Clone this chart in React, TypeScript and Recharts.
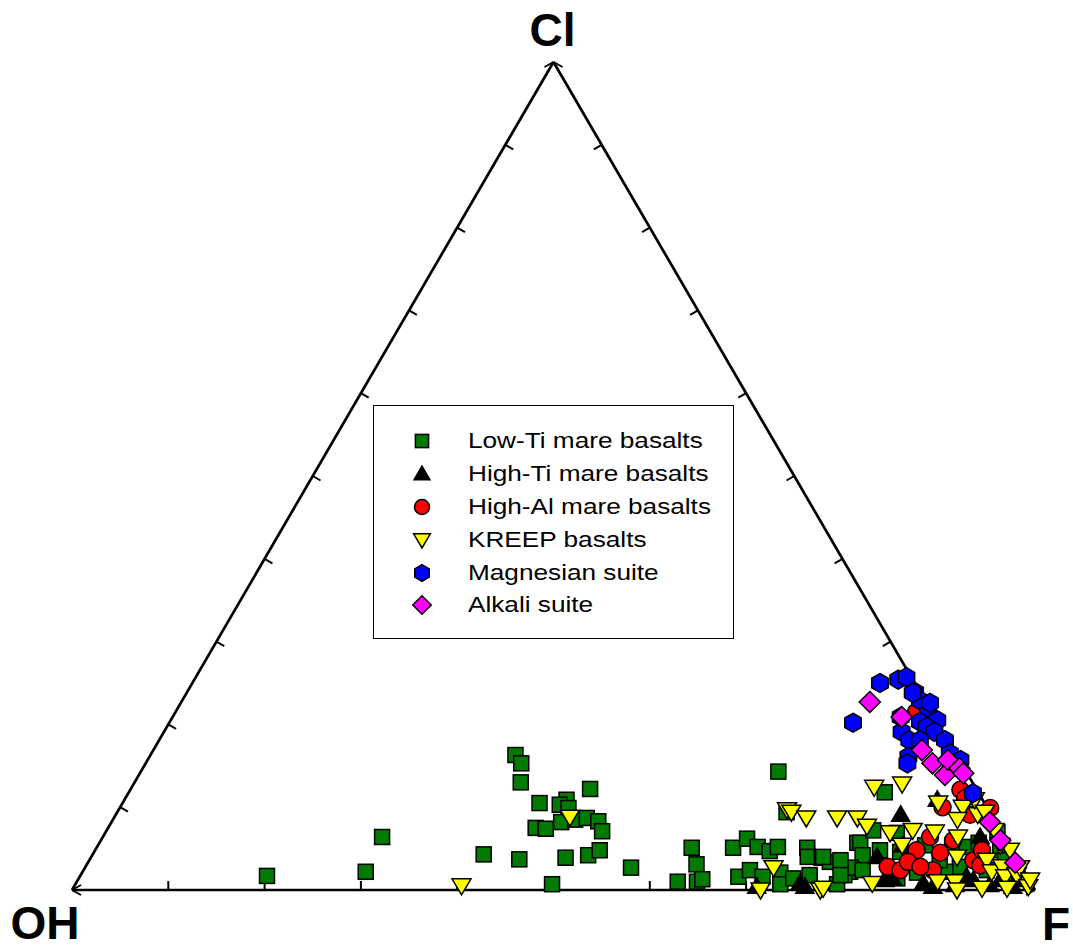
import React from "react";
import { Legend, ReferenceDot, ReferenceLine, Scatter, ScatterChart, XAxis, YAxis } from "recharts";

// compositions as [F %, Cl %]; OH is the rest
const lowTi = [
  [19.4, 1.7], [29.4, 2.2], [29.0, 6.4], [40.6, 4.3], [37.9, 16.3], [39.0, 15.3], [40.1, 13.0],
  [43.3, 10.5], [44.4, 7.5], [45.5, 7.4], [44.6, 3.7], [49.3, 3.9], [49.5, 0.7], [45.9, 10.9],
  [45.5, 10.3], [46.6, 9.9], [46.7, 8.2], [48.0, 8.5], [49.1, 8.7], [50.5, 8.3], [51.5, 7.1],
  [47.7, 12.2], [51.5, 4.2], [52.4, 4.8], [56.7, 2.7], [66.2, 14.3], [61.8, 5.1], [63.3, 3.1],
  [62.4, 1.0], [64.4, 1.0], [64.8, 1.3], [66.1, 5.1], [67.0, 6.2], [68.6, 5.2], [70.1, 4.7],
  [70.7, 5.2], [68.4, 1.6], [69.2, 2.4], [70.9, 1.6], [72.5, 2.1], [73.2, 0.7], [74.2, 1.4],
  [73.8, 5.1], [74.4, 4.0], [75.9, 3.9], [75.7, 1.8], [78.1, 3.3], [79.7, 2.2], [79.3, 1.8],
  [79.1, 0.7], [78.7, 5.7], [69.5, 9.4], [78.5, 11.8], [79.0, 5.7], [80.0, 4.2], [79.5, 2.7],
  [77.0, 3.4], [78.0, 3.6], [78.9, 1.8], [76.0, 4.0], [80.9, 2.4], [82.2, 6.9], [83.7, 4.6],
  [81.5, 4.8], [85.2, 3.6], [86.7, 2.1], [88.7, 5.4], [90.3, 5.2], [91.3, 5.7], [90.8, 2.8],
  [94.0, 4.8], [95.1, 3.6], [93.8, 2.4], [85.0, 1.4], [89.6, 2.2], [79.6, 7.2], [85.9, 5.4],
  [88.3, 3.6], [96.5, 1.8], [96.7, 2.4], [92.6, 7.0],
];
const highTi = [
  [70.9, 0.4], [75.2, 0.8], [75.9, 0.4], [81.5, 9.1], [91.1, 6.4], [81.6, 4.0], [84.5, 1.4],
  [88.0, 0.8], [92.1, 1.6], [93.0, 1.2], [97.5, 1.2], [89.2, 0.4], [91.4, 0.6], [95.0, 0.6],
  [95.8, 1.2], [97.5, 0.4], [84.4, 10.9], [83.6, 5.4], [83.8, 1.2],
];
const highAl = [
  [76.9, 21.5], [86.2, 12.1], [87.2, 11.1], [85.4, 10.0], [88.5, 6.0], [87.9, 4.5], [85.3, 4.8],
  [85.9, 6.4], [83.3, 2.8], [84.8, 2.4], [85.1, 3.4], [88.2, 2.4], [91.8, 3.6], [92.8, 3.0],
  [92.1, 4.8], [86.7, 2.8], [88.7, 9.1], [90.4, 9.9],
];
const kreep = [
  [47.3, 8.8], [40.2, 0.5], [69.4, 9.7], [70.0, 9.4], [71.9, 8.7], [75.1, 8.7], [77.2, 8.7],
  [71.5, 2.7], [71.5, 0.0], [77.7, 0.0], [77.1, 12.4], [79.8, 12.8], [78.7, 7.7], [84.7, 10.5],
  [87.5, 10.0], [89.5, 9.1], [87.7, 8.5], [81.5, 6.9], [83.7, 7.2], [86.1, 7.0], [88.8, 6.4],
  [83.5, 5.4], [89.9, 4.0], [93.2, 3.6], [94.4, 2.2], [95.2, 2.8], [96.1, 1.6], [97.2, 1.8],
  [99.1, 0.4], [89.4, 1.0], [91.2, 1.0], [91.9, 0.0], [94.4, 0.2], [97.0, 0.2], [82.7, 0.8],
  [77.9, 0.2], [88.3, 10.9], [90.1, 9.4], [92.2, 7.2], [95.0, 4.8], [97.1, 2.7], [98.9, 1.2],
  [93.7, 5.4],
];
const magnesian = [
  [71.4, 25.0], [73.1, 25.4], [73.8, 25.7], [71.0, 20.2], [75.6, 23.9], [76.6, 22.9], [78.2, 21.4],
  [79.6, 20.5], [77.9, 20.3], [78.9, 19.7], [76.6, 19.1], [80.0, 19.1], [81.6, 18.1], [77.9, 18.1],
  [79.0, 18.1], [78.8, 16.1], [79.1, 15.3], [82.9, 16.5], [84.4, 15.7], [87.7, 11.7], [75.4, 23.8],
  [75.6, 20.9], [77.8, 22.6],
];
const alkali = [
  [71.5, 22.7], [75.7, 20.9], [79.8, 16.9], [81.7, 15.3], [83.7, 13.9], [83.1, 15.7], [84.8, 14.7],
  [91.2, 8.2], [93.4, 6.0], [96.3, 3.3], [85.5, 14.1],
];

const seriesNames = [
  "Low-Ti mare basalts",
  "High-Ti mare basalts",
  "High-Al mare basalts",
  "KREEP basalts",
  "Magnesian suite",
  "Alkali suite",
];
const seriesColors = ["#007a00", "#000000", "#ff0000", "#ffff00", "#0000ff", "#ff00ff"];
const seriesShapes = ["square", "triangle", "circle", "invTriangle", "hexagon", "diamond"];
const seriesData = [lowTi, highTi, highAl, kreep, magnesian, alkali];

const tickSteps = [10, 20, 30, 40, 50, 60, 70, 80, 90];

// pixels per data unit of the plot area
const PX_X = 9.63;
const PX_Y = 8.28;

// ternary -> cartesian (x along OH-F, y = Cl)
const toXY = (rows: number[][]) =>
  rows.map(([f, cl]) => ({ x: f + cl / 2, y: cl, F: f, Cl: cl, OH: 100 - f - cl }));

function marker(kind: string, cx: number, cy: number, fill: string, k = 1) {
  const common = { fill, stroke: "#000", strokeWidth: 1.5 };
  if (kind === "square") {
    const s = 15 * k;
    return <rect x={cx - s / 2} y={cy - s / 2} width={s} height={s} {...common} />;
  }
  if (kind === "circle") return <circle cx={cx} cy={cy} r={8.5 * k} {...common} />;
  if (kind === "triangle") {
    const p = `${cx},${cy - 9 * k} ${cx + 9 * k},${cy + 6.5 * k} ${cx - 9 * k},${cy + 6.5 * k}`;
    return <polygon points={p} {...common} />;
  }
  if (kind === "invTriangle") {
    const p = `${cx - 9.5 * k},${cy - 7 * k} ${cx + 9.5 * k},${cy - 7 * k} ${cx},${cy + 9 * k}`;
    return <polygon points={p} {...common} />;
  }
  if (kind === "hexagon") {
    const r = 9.5 * k;
    const pts = [-90, -30, 30, 90, 150, 210]
      .map((a) => `${cx + r * Math.cos((a * Math.PI) / 180)},${cy + r * Math.sin((a * Math.PI) / 180)}`)
      .join(" ");
    return <polygon points={pts} {...common} />;
  }
  const d = 10.5 * k;
  const p = `${cx},${cy - d} ${cx + d},${cy} ${cx},${cy + d} ${cx - d},${cy}`;
  return <polygon points={p} {...common} />;
}

function LegendBox() {
  return (
    <div
      style={{
        width: 361,
        height: 234,
        boxSizing: "border-box",
        border: "1.5px solid #000",
        background: "#fff",
        paddingTop: 19,
        fontFamily: "'Liberation Sans', Arial, sans-serif",
      }}
    >
      {seriesNames.map((name, i) => (
        <div key={name} style={{ display: "flex", alignItems: "center", height: 32.8 }}>
          <svg width={30} height={24} style={{ marginLeft: 33 }}>
            {marker(seriesShapes[i], 15, 12, seriesColors[i], 0.88)}
          </svg>
          <span
            style={{
              display: "inline-block",
              marginLeft: 31,
              fontSize: 22,
              color: "#000",
              transform: "scaleX(1.19)",
              transformOrigin: "left center",
              whiteSpace: "nowrap",
            }}
          >
            {name}
          </span>
        </div>
      ))}
    </div>
  );
}

const labelStyle = { fontFamily: "'Liberation Sans', Arial, sans-serif", fontWeight: 700, fontSize: 46, fill: "#000" };

const vertexLabel = (text: string, dx: number, dy: number) => (props: any) => {
  const vb = props.viewBox || {};
  return (
    <text x={(vb.x ?? 0) + dx} y={(vb.y ?? 0) + dy} textAnchor="middle" style={labelStyle}>
      {text}
    </text>
  );
};

export default function App() {
  const frame = [
    [{ x: 0, y: 0 }, { x: 100, y: 0 }],
    [{ x: 0, y: 0 }, { x: 50, y: 100 }],
    [{ x: 100, y: 0 }, { x: 50, y: 100 }],
  ];
  const ticks = [
    ...tickSteps.map((t) => [{ x: t, y: 0 }, { x: t, y: 9 / PX_Y }]),
    ...tickSteps.map((t) => [{ x: t / 2, y: t }, { x: t / 2 + 7.8 / PX_X, y: t - 4.5 / PX_Y }]),
    ...tickSteps.map((t) => [{ x: 100 - t / 2, y: t }, { x: 100 - t / 2 - 7.8 / PX_X, y: t - 4.5 / PX_Y }]),
  ];
  const ax = 9 / PX_X;
  const ay = 5 / PX_Y;
  const arrows = [
    [{ x: 0, y: 0 }, { x: ax, y: -ay }],
    [{ x: 0, y: 0 }, { x: ax, y: ay }],
    [{ x: 100, y: 0 }, { x: 100 - ax, y: -ay }],
    [{ x: 100, y: 0 }, { x: 100 - ax, y: ay }],
    [{ x: 50, y: 100 }, { x: 50 - ax, y: 100 - ay }],
    [{ x: 50, y: 100 }, { x: 50 + ax, y: 100 - ay }],
  ];

  return (
    <div style={{ position: "absolute", left: 0, top: 0, background: "#fff" }}>
      <ScatterChart width={1073} height={951} margin={{ top: 62, right: 38, bottom: 61, left: 72 }}>
        <XAxis type="number" dataKey="x" domain={[0, 100]} hide />
        <YAxis type="number" dataKey="y" domain={[0, 100]} hide />
        {frame.map((seg, i) => (
          <ReferenceLine key={`f${i}`} segment={seg} stroke="#000" strokeWidth={2.7} ifOverflow="visible" />
        ))}
        {ticks.map((seg, i) => (
          <ReferenceLine key={`t${i}`} segment={seg} stroke="#000" strokeWidth={2} ifOverflow="visible" />
        ))}
        {arrows.map((seg, i) => (
          <ReferenceLine key={`a${i}`} segment={seg} stroke="#000" strokeWidth={2} ifOverflow="visible" />
        ))}
        <ReferenceDot x={50} y={100} r={0} fill="none" stroke="none" ifOverflow="visible" label={vertexLabel("Cl", -1, -16)} />
        <ReferenceDot x={0} y={0} r={0} fill="none" stroke="none" ifOverflow="visible" label={vertexLabel("OH", -27, 49)} />
        <ReferenceDot x={100} y={0} r={0} fill="none" stroke="none" ifOverflow="visible" label={vertexLabel("F", 21, 50)} />
        {seriesData.map((rows, i) => (
          <Scatter
            key={seriesNames[i]}
            name={seriesNames[i]}
            data={toXY(rows)}
            isAnimationActive={false}
            shape={(p: any) => marker(seriesShapes[i], p.cx, p.cy, seriesColors[i])}
          />
        ))}
        <Legend
          layout="vertical"
          align="center"
          verticalAlign="middle"
          wrapperStyle={{ left: 373, top: 405, width: 361, height: 234 }}
          content={() => <LegendBox />}
        />
      </ScatterChart>
    </div>
  );
}
